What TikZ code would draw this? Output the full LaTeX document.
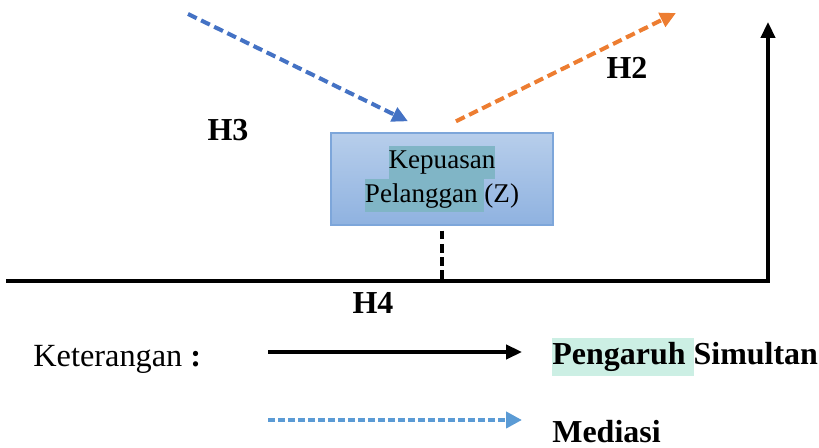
\documentclass[tikz,border=0pt]{standalone}
\usepackage{fontspec}
\setmainfont{Liberation Serif}
\usetikzlibrary{arrows.meta,positioning,calc}

\definecolor{birutua}{HTML}{4472C4}
\definecolor{oranye}{HTML}{ED7D31}
\definecolor{birumuda}{HTML}{5B9BD5}
\definecolor{kotakatas}{HTML}{B7CEEB}
\definecolor{kotakbawah}{HTML}{8FB2E0}
\definecolor{kotakgaris}{HTML}{7DA6DA}
\definecolor{sorotbiru}{HTML}{80B5C6}
\definecolor{sorothijau}{HTML}{CCEFE4}

\newcommand{\sorot}[2]{{\setlength{\fboxsep}{0pt}\colorbox{#1}{\strut #2}}}

\begin{document}
\begin{tikzpicture}[
    x=0.02cm, y=-0.02cm,
    label/.style={font=\fontsize{18.2}{22}\selectfont\bfseries, inner sep=0pt},
    keterangan/.style={font=\fontsize{18.4}{22}\selectfont, inner sep=0pt},
    variabel/.style={rectangle, draw=kotakgaris, line width=0.8pt, top color=kotakatas, bottom color=kotakbawah,
        minimum width=4.44cm, minimum height=1.84cm, align=center, inner sep=0pt,
        font=\fontsize{15.4}{19}\selectfont},
    garis/.style={line width=2pt, black},
    panah/.style={-{Triangle[length=9pt, width=8pt]}, line width=2pt},
    putus/.style={dash pattern=on 5.5pt off 2.8pt, line width=2.3pt, -{Triangle[length=9pt, width=8.5pt]}}
]
\useasboundingbox (0,0) rectangle (819,448);

% Nodes
\node[variabel] (kepuasan) at (442,179) {\sorot{sorotbiru}{Kepuasan}\\ \sorot{sorotbiru}{Pelanggan }(Z)};

\node[label] (h3) at (228,130) {H3};
\node[label] (h2) at (627,68) {H2};
\node[label] (h4) at (373,303) {H4};

\node[keterangan, anchor=west] (ket) at (33,359) {Keterangan \textbf{:}};
\node[label, anchor=west] (simultan) at (552,357) {\sorot{sorothijau}{Pengaruh }Simultan};
\node[label, anchor=west] (mediasi) at (552,432) {Mediasi};

% Free ends
\coordinate (h3awal) at (188,14);
\coordinate (h2akhir) at (676,13);
\coordinate (dasar) at (6,281);
\coordinate (sudut) at (768,281);
\coordinate (puncak) at (768,22);
\coordinate (legenda1) at (268,352);
\coordinate (legenda2) at (268,420);

% Arrows
\draw[putus, birutua] (h3awal) -- ([shift={(-34,-11)}]kepuasan.north);
\draw[putus, oranye] ([shift={(14,-11)}]kepuasan.north) -- (h2akhir);
\draw[garis, dash pattern=on 5pt off 2.5pt] ([shift={(0,5)}]kepuasan.south) -- (kepuasan.south |- dasar);
\draw[garis, panah] (dasar) -- (sudut) -- (puncak);

\draw[panah] (legenda1) -- ([shift={(-30,0)}]simultan.west |- legenda1);
\draw[-{Triangle[length=9pt, width=9pt]}, birumuda, line width=2.4pt, dash pattern=on 4pt off 1.7pt] (legenda2) -- ([shift={(-30,0)}]simultan.west |- legenda2);

\end{tikzpicture}
\end{document}
